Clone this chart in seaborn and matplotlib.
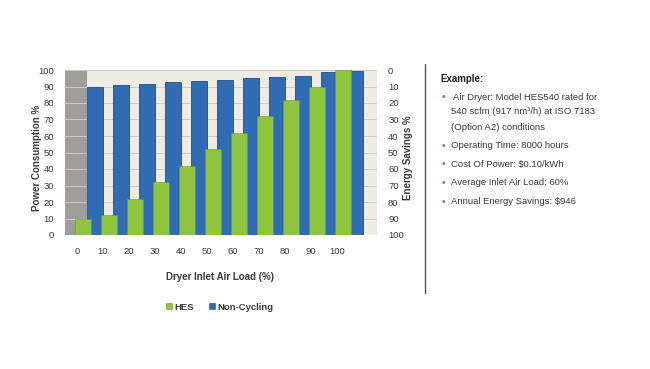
import numpy as np
import pandas as pd
import matplotlib
matplotlib.use("Agg")
import matplotlib.pyplot as plt
from matplotlib.patches import Patch
import seaborn as sns

# chart data
loads = [0, 10, 20, 30, 40, 50, 60, 70, 80, 90, 100]
hes = [10, 12, 22, 32, 42, 52, 62, 72, 82, 90, 100]
non_cycling = [90, 91, 91.5, 92.5, 93.5, 94, 95, 95.5, 96.5, 98.5, 99.5]
savings_ticks = [0, 10, 20, 30, 40, 50, 60, 70, 80, 90, 100]

example_title = "Example:"
example_lines = [
    ["Air Dryer: Model HES540 rated for",
     "540 scfm (917 nm\u00b3/h) at ISO 7183",
     "(Option A2) conditions"],
    ["Operating Time: 8000 hours"],
    ["Cost Of Power: $0.10/kWh"],
    ["Average Inlet Air Load: 60%"],
    ["Annual Energy Savings: $946"],
]

sns.set_theme(style="white")
plt.rcParams['font.family'] = ['Liberation Sans', 'DejaVu Sans']

BLUE = "#2F6CB3"
BLUE_EDGE = "#1F4E86"
GREEN = "#8FC43F"
GREEN_EDGE = "#6E9A2C"
TXT = "#3A3A3A"

fig = plt.figure(figsize=(6.5, 3.69), dpi=100)
ax = fig.add_axes([65 / 650, 1 - 235 / 369, 312 / 650, 165 / 369])
ax.set_facecolor("#EEEBE4")

idx = np.arange(len(loads))
df = pd.DataFrame({"load": loads, "HES": hes, "Non-Cycling": non_cycling})

# grey side wall of the original 3d chart
ax.axvspan(-0.46, 0.385, color="#A09C99", zorder=0.5, lw=0)
for y in range(10, 101, 10):
    ax.axhline(y, color="#CFCBC4", lw=0.7, zorder=0.6)

sns.barplot(x=idx + 0.69, y=df["Non-Cycling"], native_scale=True, width=0.63,
            color=BLUE, edgecolor=BLUE_EDGE, linewidth=0.6, saturation=1,
            ax=ax, zorder=2)
sns.barplot(x=idx + 0.23, y=df["HES"], native_scale=True, width=0.63,
            color=GREEN, edgecolor=GREEN_EDGE, linewidth=0.4, saturation=1,
            ax=ax, zorder=3)

ax.set_xlim(-0.46, 11.54)
ax.set_ylim(0, 100)
ax.set_xticks(idx)
ax.set_xticklabels([str(v) for v in loads])
ax.set_yticks(range(0, 101, 10))
ax.tick_params(axis="both", labelsize=6.8, colors=TXT, length=0)
ax.tick_params(axis="x", pad=9)
ax.tick_params(axis="y", pad=8)
ax.set_xlabel("")
ax.set_ylabel("")
for s in ax.spines.values():
    s.set_visible(False)

ax2 = ax.twinx()
ax2.set_ylim(100, 0)
ax2.set_yticks(savings_ticks)
ax2.tick_params(axis="y", labelsize=6.8, colors=TXT, length=0, pad=8)
for s in ax2.spines.values():
    s.set_visible(False)

fig.text(37 / 650, 1 - 158 / 369, "Power Consumption %", rotation=90,
         ha="center", va="center", fontsize=7, fontweight="bold", color=TXT)
fig.text(408 / 650, 1 - 158 / 369, "Energy Savings %", rotation=90,
         ha="center", va="center", fontsize=7, fontweight="bold", color=TXT)
fig.text(220 / 650, 1 - 277 / 369, "Dryer Inlet Air Load (%)",
         ha="center", va="center", fontsize=7, fontweight="bold", color=TXT)

handles = [Patch(facecolor=GREEN, edgecolor=GREEN_EDGE, lw=0.4),
           Patch(facecolor=BLUE, edgecolor=BLUE_EDGE, lw=0.4)]
leg = fig.legend(handles, ["HES", "Non-Cycling"], loc="center",
                 bbox_to_anchor=(220 / 650, 1 - 307 / 369), ncol=2, frameon=False,
                 fontsize=6.8, handlelength=0.6, handleheight=0.6,
                 handletextpad=0.3, columnspacing=1.6)
for t in leg.get_texts():
    t.set_fontweight("bold")
    t.set_color(TXT)

# divider and example panel
fig.add_artist(plt.Line2D([425 / 650, 425 / 650], [1 - 64 / 369, 1 - 293 / 369],
                          color="#555555", lw=1.0))
fig.text(440 / 650, 1 - 79 / 369, example_title, ha="left", va="center",
         fontsize=7, fontweight="bold", color="#222222")
line_y = [[97, 112, 127], [146], [164], [183], [202]]
for k, (lines, ys) in enumerate(zip(example_lines, line_y)):
    fig.text(443 / 650, 1 - ys[0] / 369, "\u2022", ha="center", va="center",
             fontsize=7.5, color="#3FA35A")
    for j, (txt, y) in enumerate(zip(lines, ys)):
        x = 453 if (k == 0 and j == 0) else 451
        fig.text(x / 650, 1 - y / 369, txt, ha="left", va="center",
                 fontsize=6.8, color="#3A3A3A")

fig.savefig("out.png", dpi=100)
